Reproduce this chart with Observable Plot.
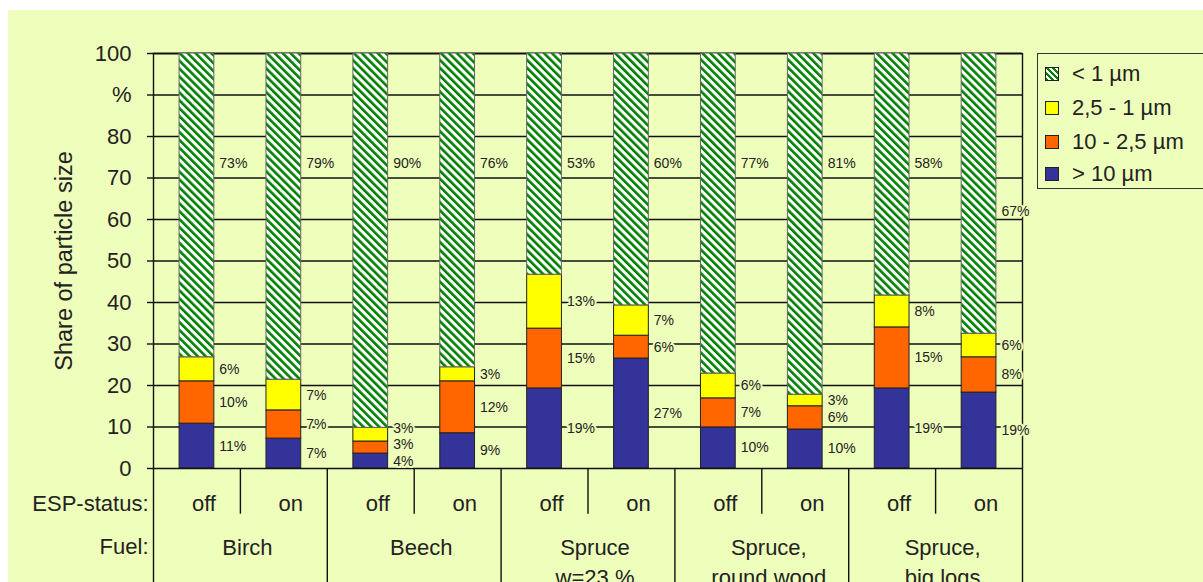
<!DOCTYPE html>
<html>
<head>
<meta charset="utf-8">
<script src="https://cdn.jsdelivr.net/npm/d3@7"></script>
<script src="https://cdn.jsdelivr.net/npm/@observablehq/plot@0.6"></script>
<style>
  html, body { margin: 0; padding: 0; background: #ffffff; overflow: hidden; }
  #wrap { position: relative; width: 1203px; height: 582px; overflow: hidden; }
  #chart { position: absolute; left: 8px; top: 10px; width: 1195px; height: 572px; background: #EEFFBB; }
  #chart svg { display: block; }
  #legend { position: absolute; left: 1037px; top: 53px; width: 190px; height: 136px;
    border: 1.5px solid #333; box-sizing: border-box;
    font-family: "Liberation Sans", Arial, sans-serif; font-size: 22px; color: #222; }
  .item { position: absolute; left: 0; height: 24px; line-height: 24px; white-space: nowrap; }
  .sw { position: absolute; left: 7px; top: 5px; width: 14px; height: 14px; border: 1.2px solid #222; box-sizing: border-box; }
  .lab { position: absolute; left: 34px; top: 0; }
</style>
</head>
<body>
<div id="wrap">
  <div id="chart"></div>
  <div id="legend"></div>
</div>
<script>
// ---- data ----
const fuels = ["Birch", "Beech", "Spruce\nw=23 %", "Spruce,\nround wood", "Spruce,\nbig logs"];
const espStatus = ["off", "on"];
const sizeClasses = ["> 10 µm", "10 - 2,5 µm", "2,5 - 1 µm", "< 1 µm"];
// bars in order: Birch off, Birch on, Beech off, Beech on, Spruce off, Spruce on, round wood off/on, big logs off/on
const gt10       = [10.8, 7.2, 3.6, 8.5, 19.3, 26.5, 9.9, 9.4, 19.3, 18.3];
const from10to25 = [10.2, 6.8, 2.9, 12.5, 14.4, 5.5, 7.0, 5.6, 14.7, 8.5];
const from25to1  = [5.8, 7.4, 3.3, 3.4, 13.0, 7.3, 6.0, 2.8, 7.7, 5.7];
const lt1        = [73.2, 78.6, 90.2, 75.6, 53.3, 60.7, 77.1, 82.2, 58.3, 67.5];
const gt10Labels   = ["11%", "7%", "4%", "9%", "19%", "27%", "10%", "10%", "19%", "19%"];
const from10Labels = ["10%", "7%", "3%", "12%", "15%", "6%", "7%", "6%", "15%", "8%"];
const from25Labels = ["6%", "7%", "3%", "3%", "13%", "7%", "6%", "3%", "8%", "6%"];
const lt1Labels    = ["73%", "79%", "90%", "76%", "53%", "60%", "77%", "81%", "58%", "67%"];
const yTicks = [0, 10, 20, 30, 40, 50, 60, 70, 80, 90, 100];
const yTickLabels = ["0", "10", "20", "30", "40", "50", "60", "70", "80", "%", "100"];

// ---- styling ----
const BG = "#EEFFBB";
const FONT = "Liberation Sans, Arial, sans-serif";
const colors = ["#333399", "#FF6600", "#FFFF00", "url(#hatch)"];
const series = [gt10, from10to25, from25to1, lt1];
const labels = [gt10Labels, from10Labels, from25Labels, lt1Labels];

// ---- build table ----
const rows = [];
for (let i = 0; i < gt10.length; i++) {
  let cum = 0, prevLy = -Infinity;
  for (let k = 0; k < 4; k++) {
    const v = series[k][i];
    const r = {i, k, y1: cum, y2: cum + v, label: labels[k][i]};
    if (k < 3) {
      let ly = (r.y1 + r.y2) / 2;
      ly = Math.max(ly, prevLy + 3.9);
      r.ly = ly; prevLy = ly;
    } else {
      r.ly = i === 9 ? 62 : 73.5;
    }
    rows.push(r);
    cum += v;
  }
}
const bars = d3.range(gt10.length);

const barMarks = [0, 1, 2, 3].map(k => Plot.rect(rows.filter(d => d.k === k), {
  x1: d => d.i + 0.3, x2: d => d.i + 0.7, y1: "y1", y2: "y2",
  fill: colors[k], stroke: k === 3 ? "#666" : "#222", strokeWidth: 1
}));

const chart = Plot.plot({
  width: 1195, height: 572,
  marginLeft: 145, marginRight: 181, marginTop: 43, marginBottom: 114,
  style: {background: "transparent", fontFamily: FONT, color: "#222", overflow: "visible"},
  x: {type: "linear", domain: [0, 10], axis: null},
  y: {domain: [0, 100], axis: null},
  marks: [
    Plot.ruleY(yTicks.filter(t => t > 0 && t < 100), {x1: 0, x2: 10, stroke: "#111", strokeWidth: 1.4}),
    Plot.ruleY([100], {x1: 0, x2: 10, stroke: "#111", strokeWidth: 2}),
    ...barMarks,
    Plot.ruleY([0], {x1: 0, x2: 10, stroke: "#111", strokeWidth: 1.5}),
    Plot.ruleX([0, 10], {y1: -28, y2: 100, stroke: "#111", strokeWidth: 1.4}),
    Plot.ruleX([2, 4, 6, 8], {y1: -28, y2: 0, stroke: "#111", strokeWidth: 1.4}),
    Plot.ruleX([1, 3, 5, 7, 9], {y1: -11, y2: 0, stroke: "#111", strokeWidth: 1.4}),
    Plot.axisY(yTicks, {
      tickSize: 6, tickPadding: 16, fontSize: 22, stroke: "#111", strokeWidth: 1.4,
      tickFormat: (d) => yTickLabels[yTicks.indexOf(d)],
      label: "Share of particle size", labelAnchor: "center", labelOffset: 98, labelArrow: "none"
    }),
    Plot.text(rows, {
      x: d => d.i + 0.7, y: "ly", text: "label", dx: 5, textAnchor: "start",
      fontSize: 14, fill: "#222", stroke: BG, strokeWidth: 4, paintOrder: "stroke"
    }),
    Plot.text(bars, {x: i => i + 0.5, y: -8.43, text: i => espStatus[i % 2], dx: 7, fontSize: 22, fill: "#222"}),
    Plot.text(d3.range(fuels.length), {
      x: j => 2 * j + 1, y: -16.87, text: j => fuels[j], dx: 7, dy: -5, fontSize: 22, fill: "#222",
      lineAnchor: "top", lineHeight: 1.36
    }),
    Plot.text(["ESP-status:"], {frameAnchor: "left", y: -8.43, text: d => d, dx: -5, textAnchor: "end", fontSize: 22, fill: "#222"}),
    Plot.text(["Fuel:"], {frameAnchor: "left", y: -16.87, text: d => d, dx: -5, textAnchor: "end", fontSize: 22, fill: "#222", lineAnchor: "top"})
  ]
});

// hatch pattern for "< 1 µm"
const defs = d3.select(chart).insert("defs", ":first-child");
const pat = defs.append("pattern").attr("id", "hatch").attr("patternUnits", "userSpaceOnUse")
  .attr("width", 5.6).attr("height", 5.6).attr("patternTransform", "rotate(-45)");
pat.append("rect").attr("width", 5.6).attr("height", 5.6).attr("fill", "#ffffff");
pat.append("rect").attr("width", 2.6).attr("height", 5.6).attr("fill", "#008000");

d3.select(chart).selectAll("[aria-label='y-axis label'] text, [aria-label='y-axis label']")
  .attr("font-size", 23.5);

document.getElementById("chart").appendChild(chart);

// legend (top to bottom: < 1 µm ... > 10 µm)
const legend = d3.select("#legend");
const order = [3, 2, 1, 0];
const rowTops = [8, 42, 76, 108];
order.forEach((k, r) => {
  const it = legend.append("div").attr("class", "item").style("top", rowTops[r] + "px");
  const sw = it.append("div").attr("class", "sw");
  if (k === 3) {
    sw.style("background", "repeating-linear-gradient(45deg, #008000 0px, #008000 2px, #ffffff 2px, #ffffff 4.2px)");
  } else {
    sw.style("background", colors[k]);
  }
  it.append("div").attr("class", "lab").text(sizeClasses[k]);
});
</script>
</body>
</html>
